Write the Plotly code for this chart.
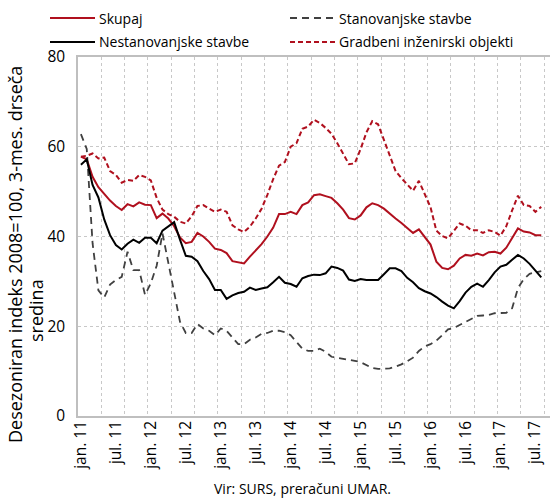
import plotly.graph_objects as go

months = list(range(80))  # jan 2011 .. aug 2017
tick_pos = list(range(0, 80, 6))
tick_text = ["jan. 11", "jul. 11", "jan. 12", "jul. 12", "jan. 13", "jul. 13", "jan. 14",
             "jul. 14", "jan. 15", "jul. 15", "jan. 16", "jul. 16", "jan. 17", "jul. 17"]

skupaj = [57.8, 57.2, 53.3, 51.0, 49.5, 48.0, 46.8, 45.9, 47.2, 46.7,
          47.6, 47.1, 47.0, 44.1, 45.1, 44.0, 42.3, 39.8, 38.5, 38.8,
          40.8, 40.0, 38.8, 37.3, 37.0, 36.3, 34.5, 34.2, 34.0, 35.5,
          36.8, 38.3, 40.0, 42.0, 45.0, 45.0, 45.5, 45.0, 47.0, 47.6,
          49.2, 49.4, 49.0, 48.6, 47.4, 46.0, 44.1, 43.8, 44.7, 46.5,
          47.4, 47.0, 46.2, 45.0, 44.0, 43.0, 41.8, 40.8, 41.6, 40.0,
          38.2, 34.4, 33.0, 32.7, 33.5, 35.1, 35.9, 35.7, 36.2, 35.8,
          36.5, 36.6, 36.2, 37.5, 39.6, 41.8, 41.1, 40.9, 40.3, 40.3]

stanovanjske = [62.8, 59.5, 38.5, 28.0, 26.4, 29.3, 30.3, 31.0, 36.6, 32.5,
                32.5, 27.0, 29.6, 33.5, 40.7, 34.0, 27.0, 21.0, 18.5, 18.5,
                20.5, 19.5, 19.0, 18.0, 19.5, 19.0, 17.5, 16.0, 16.0, 17.0,
                17.5, 18.3, 18.5, 19.0, 19.0, 18.7, 18.0, 16.5, 15.0, 14.5,
                14.5, 15.0, 14.3, 13.2, 13.0, 12.8, 12.6, 12.3, 12.0, 11.4,
                10.7, 10.5, 10.5, 10.6, 11.0, 11.5, 12.2, 13.0, 14.5, 15.5,
                16.0, 16.8, 18.0, 19.3, 19.6, 20.3, 21.0, 21.7, 22.3, 22.4,
                22.5, 22.9, 22.9, 23.0, 24.0, 28.5, 30.5, 31.7, 32.0, 32.3]

nestanovanjske = [56.0, 57.2, 51.5, 48.7, 43.8, 40.3, 38.1, 37.1, 38.4, 39.3,
                  38.6, 39.7, 39.7, 38.5, 41.3, 42.3, 43.2, 39.3, 35.7, 35.5,
                  34.5, 32.3, 30.5, 28.1, 28.1, 26.1, 26.9, 27.4, 27.7, 28.6,
                  28.1, 28.4, 28.7, 29.8, 31.0, 29.7, 29.4, 28.8, 30.7, 31.2,
                  31.5, 31.4, 31.8, 33.3, 33.0, 32.4, 30.4, 30.1, 30.5, 30.3,
                  30.3, 30.3, 31.6, 32.9, 32.9, 32.3, 30.8, 29.8, 28.5, 27.8,
                  27.3, 26.5, 25.5, 24.6, 24.0, 25.6, 27.5, 28.8, 29.5, 28.8,
                  30.3, 32.0, 33.3, 33.7, 34.8, 35.9, 35.1, 33.9, 32.4, 30.9]

gradbeni = [57.8, 58.0, 58.5, 57.4, 57.6, 54.6, 53.7, 52.0, 52.6, 52.4,
            53.7, 53.3, 52.5, 48.6, 46.0, 45.0, 44.4, 43.3, 42.9, 44.5,
            46.8, 47.0, 46.2, 45.5, 46.0, 45.5, 42.5, 41.6, 41.0, 42.2,
            44.0, 46.2, 49.3, 52.8, 55.8, 56.6, 60.0, 60.8, 64.0, 64.5,
            66.0, 65.3, 64.2, 62.9, 60.8, 58.6, 56.1, 56.3, 59.5, 63.2,
            65.7, 65.0, 61.5, 57.8, 54.6, 53.0, 51.5, 50.2, 52.4, 49.5,
            46.5, 41.3, 40.1, 39.6, 41.3, 42.9, 42.4, 41.4, 41.4, 40.8,
            41.4, 41.0, 40.2, 42.3, 45.8, 49.1, 47.0, 46.8, 45.5, 46.6]

series_names = ["Skupaj", "Stanovanjske stavbe", "Nestanovanjske stavbe",
                "Gradbeni inženirski objekti"]

RED = "#B0101E"
GRAY = "#404040"
FONT = "Open Sans"

# plot-area geometry (pixels) used to place decorations in paper coordinates
L, R, T, B, W, H = 78, 3, 57, 82, 553, 498
PW, PH = W - L - R, H - T - B


def px(x):
    return (x - L) / PW


def py(y):
    return (H - B - y) / PH


styles = [dict(color=RED, width=2),
          dict(color=GRAY, width=1.8, dash="7px,5px"),
          dict(color="#000000", width=2),
          dict(color=RED, width=2, dash="5px,3px")]
data = [skupaj, stanovanjske, nestanovanjske, gradbeni]

fig = go.Figure()
for name, vals, st in zip(series_names, data, styles):
    fig.add_trace(go.Scatter(x=months, y=vals, name=name, mode="lines", line=st,
                             showlegend=False))

# manual legend (two columns)
shapes = []
annotations = []
leg_pos = [(50, 18), (290, 18), (50, 42), (290, 42)]
for name, st, (lx, ly) in zip(series_names, styles, leg_pos):
    shapes.append(dict(type="line", xref="paper", yref="paper",
                       x0=px(lx), x1=px(lx + 45), y0=py(ly), y1=py(ly),
                       line=st))
    annotations.append(dict(text=name, xref="paper", yref="paper",
                            x=px(lx + 47), y=py(ly), xanchor="left", yanchor="middle",
                            showarrow=False, font=dict(family=FONT, size=14)))

annotations.append(dict(text="Desezoniran indeks 2008=100, 3-mes. drseča",
                        xref="paper", yref="paper", x=px(15), y=py(255),
                        xanchor="center", yanchor="middle", textangle=-90,
                        showarrow=False, font=dict(family=FONT, size=18)))
annotations.append(dict(text="sredina", xref="paper", yref="paper", x=px(36), y=py(311),
                        xanchor="center", yanchor="middle", textangle=-90,
                        showarrow=False, font=dict(family=FONT, size=18)))
annotations.append(dict(text="Vir: SURS, preračuni UMAR.", xref="paper", yref="paper",
                        x=px(302), y=py(488), xanchor="center", yanchor="middle",
                        showarrow=False, font=dict(family=FONT, size=14)))

fig.update_layout(
    width=W, height=H,
    margin=dict(l=L, r=R, t=T, b=B),
    paper_bgcolor="white", plot_bgcolor="white",
    font=dict(family=FONT, size=15, color="#000000"),
    showlegend=False,
    xaxis=dict(range=[-0.5, 80.5], tickmode="array", tickvals=tick_pos, ticktext=tick_text,
               tickangle=-90, showgrid=False, zeroline=False, automargin=False,
               showline=True, linecolor="#BFBFBF", linewidth=1.5, mirror=True,
               ticks="", tickfont=dict(family=FONT, size=15.5), ticklabelstandoff=-3,
               minor=dict(tickmode="linear", tick0=-0.5, dtick=4, showgrid=True,
                          gridcolor="#C8C8C8", griddash="dot", gridwidth=1, ticks="")),
    yaxis=dict(range=[0, 80], tickvals=[0, 20, 40, 60, 80], showgrid=True,
               gridcolor="#C8C8C8", griddash="dot", gridwidth=1, zeroline=False,
               showline=True, linecolor="#BFBFBF", linewidth=1.5, automargin=False,
               ticks="", tickfont=dict(family=FONT, size=15.5), ticklabelstandoff=8),
    shapes=shapes,
    annotations=annotations,
)

fig.write_html("out.html", config={"displayModeBar": False},
               post_script="document.body.style.margin='0';document.body.style.padding='0';")
